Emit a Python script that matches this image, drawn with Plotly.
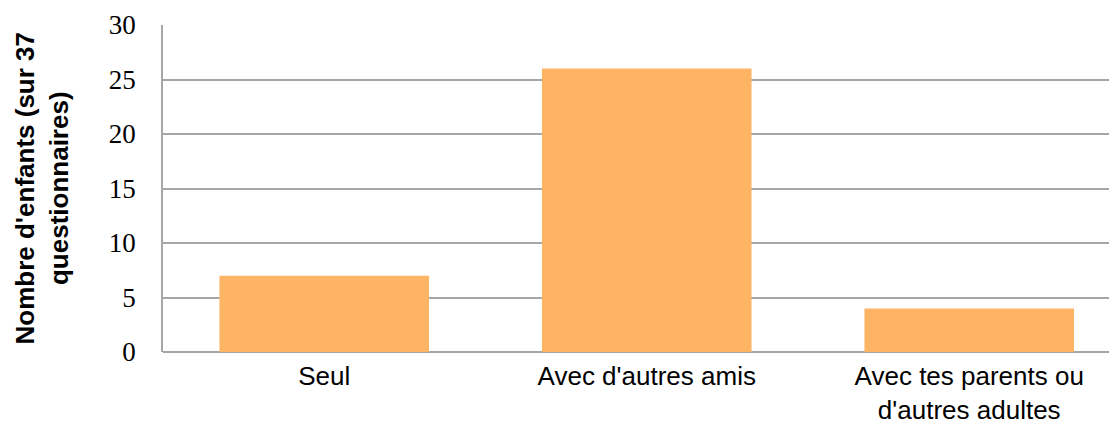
import plotly.graph_objects as go

categories = ["Seul", "Avec d'autres amis", "Avec tes parents ou<br>d'autres adultes"]
values = [7, 26, 4]
y_ticks = [0, 5, 10, 15, 20, 25, 30]
y_title = "Nombre d'enfants (sur 37<br>questionnaires)"

fig = go.Figure()
fig.add_trace(go.Bar(
    x=categories,
    y=values,
    marker=dict(color="#FDB465", line=dict(width=0)),
    width=0.65,
))

fig.update_layout(
    width=1117, height=425,
    margin=dict(l=155, r=0, t=17, b=81),
    paper_bgcolor="white", plot_bgcolor="white",
    showlegend=False,
    xaxis=dict(
        type="category",
        range=[-0.5, 2.483],
        showgrid=False, showline=False, zeroline=False,
        ticks="", ticklabelstandoff=6,
        tickfont=dict(family="Liberation Sans, Arial", size=26, color="black"),
    ),
    yaxis=dict(
        range=[0, 30],
        tickvals=y_ticks,
        showgrid=True, gridcolor="#A6A6A6", gridwidth=1.5,
        zeroline=True, zerolinecolor="#A6A6A6", zerolinewidth=1.5,
        showline=True, linecolor="#A6A6A6", linewidth=1.5,
        ticks="", ticklabelstandoff=20,
        tickfont=dict(family="Liberation Serif, Times New Roman", size=27, color="black"),
    ),
    annotations=[dict(
        text="<b>" + y_title + "</b>",
        xref="paper", yref="paper",
        x=-0.1258, y=0.5,
        xanchor="center", yanchor="middle",
        textangle=-90, showarrow=False,
        font=dict(family="Liberation Sans, Arial", size=26, color="black"),
    )],
)

fig.write_html("out.html")
